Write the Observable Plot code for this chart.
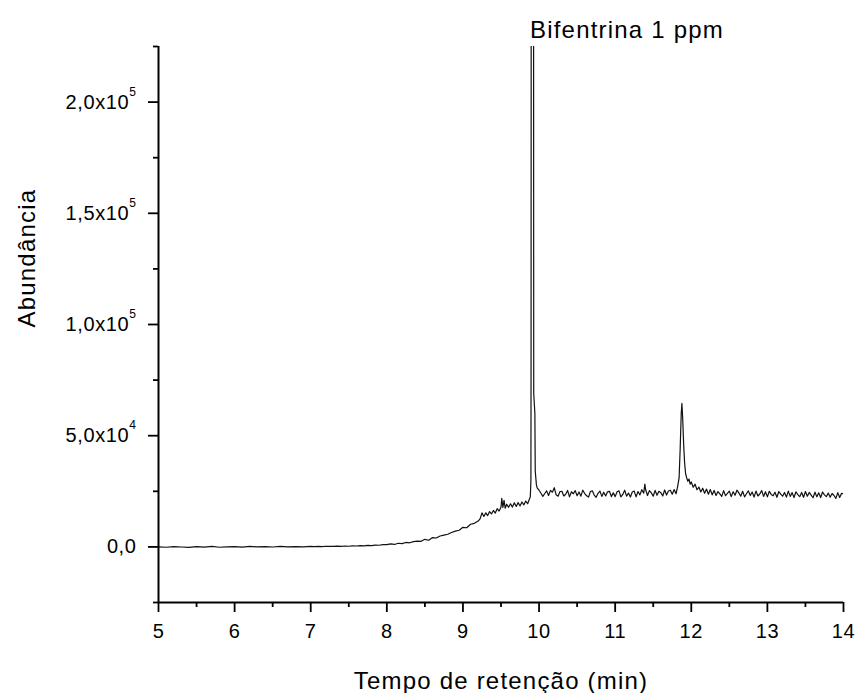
<!DOCTYPE html>
<html><head><meta charset="utf-8">
<script src="https://cdn.jsdelivr.net/npm/d3@7"></script>
<script src="https://cdn.jsdelivr.net/npm/@observablehq/plot@0.6"></script>
<style>html,body{margin:0;padding:0;background:#fff}#chart svg{display:block}</style>
</head><body><div id="chart"></div>
<script>
// Retention time (min)
const times = [
 5.0,5.1,5.2,5.3,5.4,5.5,5.6,5.7,5.8,5.9,6.0,6.1,6.2,6.3,6.4,6.5,6.6,6.7,6.8,6.9,
 7.00,7.05,7.10,7.15,7.20,7.25,7.30,7.35,7.40,7.45,7.50,7.55,7.60,7.65,7.70,7.75,7.80,7.85,7.90,7.95,
 8.00,8.05,8.10,8.15,8.20,8.25,8.30,8.35,8.40,8.45,8.50,8.55,8.60,8.65,8.70,8.75,8.80,8.85,8.90,8.95,
 9.00,9.05,9.10,9.15,
 9.200,9.225,9.250,9.275,9.300,9.325,9.350,9.375,9.400,9.425,9.450,9.475,9.500,9.510,9.525,9.540,9.555,9.575,9.600,9.625,
 9.650,9.675,9.700,9.725,9.750,9.775,9.800,9.825,9.850,9.870,9.885,9.893,9.895,9.897,9.912,9.928,9.930,9.945,9.950,9.965,9.975,
 10.000,10.025,10.050,10.075,10.100,10.125,10.150,10.175,10.200,10.225,10.250,10.275,10.300,10.325,10.350,10.375,10.400,10.425,10.450,10.475,
 10.500,10.525,10.550,10.575,10.600,10.625,10.650,10.675,10.700,10.725,10.750,10.775,10.800,10.825,10.850,10.875,10.900,10.925,10.950,10.975,
 11.000,11.025,11.050,11.075,11.100,11.125,11.150,11.175,11.200,11.225,11.250,11.275,11.300,11.325,11.350,11.375,11.390,11.400,11.425,11.450,
 11.475,11.500,11.525,11.550,11.575,11.600,11.625,11.650,11.675,11.700,11.725,11.750,11.775,11.800,11.820,11.840,11.855,11.868,11.877,11.887,
 11.900,11.912,11.925,11.940,11.955,11.970,11.985,12.000,12.025,12.050,12.075,12.100,12.125,12.150,12.175,12.200,12.225,12.250,12.275,12.300,
 12.325,12.350,12.375,12.400,12.425,12.450,12.475,12.500,12.525,12.550,12.575,12.600,12.625,12.650,12.675,12.700,12.725,12.750,12.775,12.800,
 12.825,12.850,12.875,12.900,12.925,12.950,12.975,13.000,13.025,13.050,13.075,13.100,13.125,13.150,13.175,13.200,13.225,13.250,13.275,13.300,
 13.325,13.350,13.375,13.400,13.425,13.450,13.475,13.500,13.525,13.550,13.575,13.600,13.625,13.650,13.675,13.700,13.725,13.750,13.775,13.800,
 13.825,13.850,13.875,13.900,13.925,13.950,13.975,14.000
];
// Abundance (counts)
const abundance = [
 0,-150,150,-50,-200,100,-100,200,-150,50,150,-100,200,0,150,-50,200,50,150,50,
 200,100,250,150,300,200,250,350,250,400,300,450,400,550,450,650,600,800,750,1000,
 1000,1350,1100,1650,1450,2000,1850,2400,2600,2500,3400,3000,4200,4000,4900,5300,5700,6500,7100,7500,
 8800,8600,10200,10600,
 11600,12600,15300,13700,15300,14100,15900,14800,16400,15200,17200,16100,17800,21800,17800,20900,17400,19200,17800,19400,
 17900,19800,18200,19900,18400,20200,18900,20600,19400,21200,22500,30000,80000,260000,900000,260000,69000,60000,34000,28000,26500,
 25500,24100,22700,24000,25200,23100,25400,24600,26600,23400,22800,24900,25000,22900,23700,25400,22500,24800,23900,25300,
 23000,24700,22800,25500,24000,23000,22400,24900,25200,23300,22300,24100,25100,22700,24600,22900,24800,25000,22600,24300,
 22600,24800,25200,22500,23600,25500,22800,24200,22400,24700,25100,22500,24900,23400,25700,24200,28200,25800,23100,25300,
 24300,22800,25400,23200,25000,24400,22900,25600,23300,25100,25500,23700,25800,23900,27000,31000,45000,60000,64500,58000,
 46000,38000,33000,31000,29500,30500,28200,29200,26800,28200,25700,26900,24700,26400,24100,26000,23700,25800,23400,25400,
 23100,24900,23800,22700,25300,23000,24100,25100,22600,24800,23200,25500,24300,22800,25000,22500,23900,25200,23100,24700,
 22400,25100,22900,23800,25300,22700,24800,22500,25000,23600,23000,24600,22300,24900,23700,22800,24500,22400,25100,22700,
 24400,22200,24800,23500,22600,24500,22300,24900,22800,24500,23300,22100,24600,22500,24300,22200,24700,23400,22600,24200,
 22300,24000,23100,21800,24400,22200,24100,23900
];
const xTicks = [5,6,7,8,9,10,11,12,13,14];
const xMinorTicks = [5.5,6.5,7.5,8.5,9.5,10.5,11.5,12.5,13.5];
const yTicks = [0,50000,100000,150000,200000];
const yTickLabels = ["0,0","5,0x10^4","1,0x10^5","1,5x10^5","2,0x10^5"];
const yMinorTicks = [-25000,25000,75000,125000,175000,225000];
const xDomain = [5,14];
const yDomain = [-25000,225000];
const title = "Bifentrina 1 ppm";
const xLabel = "Tempo de retenção (min)";
const yLabel = "Abundância";

const data = times.map((t,i) => ({t, v: abundance[i]}));

const chart = Plot.plot({
  width: 856, height: 693,
  marginLeft: 158, marginRight: 13, marginTop: 46, marginBottom: 91,
  style: {fontFamily: "'Liberation Sans', Arial, sans-serif", fontSize: "20px", color: "#000", background: "#fff", overflow: "visible"},
  x: {domain: xDomain},
  y: {domain: yDomain},
  marks: [
    Plot.line(data, {x: "t", y: "v", stroke: "#111", strokeWidth: 1.2, clip: true}),
    Plot.axisX(xTicks, {tickSize: 10, tickPadding: 11, strokeWidth: 1.8, fontSize: 20, label: null, tickFormat: d => String(d)}),
    Plot.axisX(xMinorTicks, {tickSize: 5, strokeWidth: 1.8, label: null, tickFormat: () => ""}),
    Plot.axisY(yTicks, {tickSize: 10, tickPadding: 12, strokeWidth: 1.8, fontSize: 20, label: null, tickFormat: d => yTickLabels[yTicks.indexOf(d)]}),
    Plot.axisY(yMinorTicks, {tickSize: 5, strokeWidth: 1.8, label: null, tickFormat: () => ""}),
    Plot.ruleX([xDomain[0]], {strokeWidth: 2}),
    Plot.ruleY([yDomain[0]], {strokeWidth: 2}),
    Plot.text([title], {text: d => d, frameAnchor: "top", dx: 126, dy: -9, lineAnchor: "bottom", fontSize: 24}),
    Plot.text([xLabel], {text: d => d, frameAnchor: "bottom", dy: 86, lineAnchor: "bottom", fontSize: 24}),
    Plot.text([yLabel], {text: d => d, frameAnchor: "left", dx: -124, dy: 3, rotate: -90, lineAnchor: "bottom", fontSize: 24})
  ]
});

d3.select(chart).selectAll("text").each(function() {
  const s = this.textContent;
  if (s === title || s === xLabel || s === yLabel) {
    this.style.letterSpacing = "1.2px";
    this.style.fontSize = "24px";
  } else {
    this.style.letterSpacing = "0.6px";
    this.style.fontSize = "20px";
  }
  if (s.includes("^")) {
    const [base, exp] = s.split("^");
    this.textContent = "";
    const sel = d3.select(this);
    sel.append("tspan").text(base);
    sel.append("tspan").attr("dy", -13).style("font-size", "12px").text(exp);
  }
});

document.getElementById("chart").appendChild(chart);
</script>
</body></html>
